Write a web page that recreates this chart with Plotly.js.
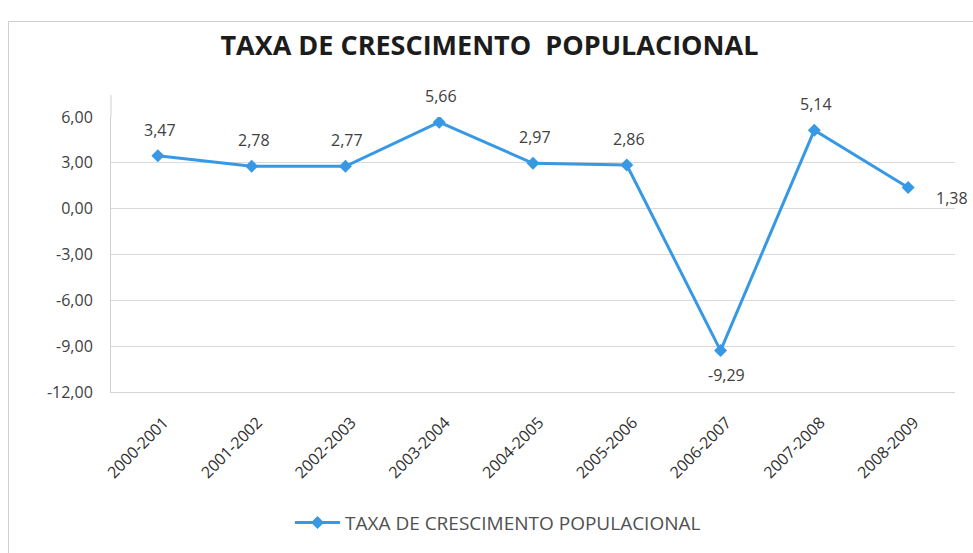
<!DOCTYPE html>
<html><head><meta charset="utf-8">
<script src="https://cdn.plot.ly/plotly-3.0.1.min.js"></script>
<style>
html,body{margin:0;padding:0;background:#fff;}
#wrap{position:relative;width:973px;height:553px;overflow:hidden;}
#chart{width:973px;height:553px;}
#frame{position:absolute;left:8px;top:21px;width:975px;height:545px;border:1px solid #cfcfcf;pointer-events:none;}
</style></head>
<body>
<div id="wrap"><div id="chart"></div><div id="frame"></div></div>
<script>
const categories = ["2000-2001","2001-2002","2002-2003","2003-2004","2004-2005","2005-2006","2006-2007","2007-2008","2008-2009"];
const values = [3.47, 2.78, 2.77, 5.66, 2.97, 2.86, -9.29, 5.14, 1.38];
const tickValues = [-12, -9, -6, -3, 0, 3, 6];
const tickLabels = ["-12,00","-9,00","-6,00","-3,00","0,00","3,00","6,00"];
const seriesName = "TAXA DE CRESCIMENTO POPULACIONAL";
const chartTitle = "TAXA DE CRESCIMENTO&nbsp; POPULACIONAL";

const FONT = "'Open Sans', sans-serif";
const fmt = v => v.toFixed(2).replace('.', ',');

const annotations = values.map((v, i) => {
  let xs = 2, ys = 26;
  if (v < 0) { ys = -24; xs = 6; }
  if (i === values.length - 1) { xs = 44; ys = -10; }
  return {x: categories[i], y: v, xref: 'x', yref: 'y', text: fmt(v), showarrow: false,
          xshift: xs, yshift: ys, font: {family: FONT, size: 16, color: '#404040'}};
});

const trace = {
  x: categories, y: values, type: 'scatter', mode: 'lines+markers', name: seriesName,
  line: {color: '#3799e4', width: 3},
  marker: {symbol: 'diamond', size: 10, color: '#3799e4'}
};

const layout = {
  width: 973, height: 553,
  margin: {l: 111, r: 18, t: 117, b: 158},
  paper_bgcolor: '#ffffff', plot_bgcolor: '#ffffff',
  title: {text: '<b>' + chartTitle + '</b>', x: 0.503, xanchor: 'center', y: 0.917, yanchor: 'middle', yref: 'container',
          font: {family: FONT, size: 27, color: '#1c1c1c'}},
  xaxis: {type: 'category', tickangle: -45, showgrid: false, zeroline: false, showline: true, linecolor: '#d4d4d4',
          ticks: '', ticklabelstandoff: 14, ticklabelshift: 6,
          tickfont: {family: FONT, size: 16, color: '#303030'}, range: [-0.5, 8.5]},
  yaxis: {range: [-12, 6], tickvals: tickValues, ticktext: tickLabels, showgrid: true,
          gridcolor: '#dadada', gridwidth: 1, zeroline: false, showline: true, linecolor: '#d0d0d0',
          ticks: '', ticklabelstandoff: 14, tickfont: {family: FONT, size: 16, color: '#404040'}},
  shapes: [{type: 'line', xref: 'paper', yref: 'paper', x0: 0, x1: 0, y0: 1, y1: 1.08,
            line: {color: '#d0d0d0', width: 1}}],
  showlegend: true,
  legend: {orientation: 'h', x: 0.4585, xanchor: 'center', y: -0.475, yanchor: 'middle', itemwidth: 45,
           font: {family: FONT, size: 19, color: '#505050'}},
  annotations: annotations
};

Plotly.newPlot('chart', [trace], layout, {displayModeBar: false, staticPlot: true});
</script>
</body></html>
